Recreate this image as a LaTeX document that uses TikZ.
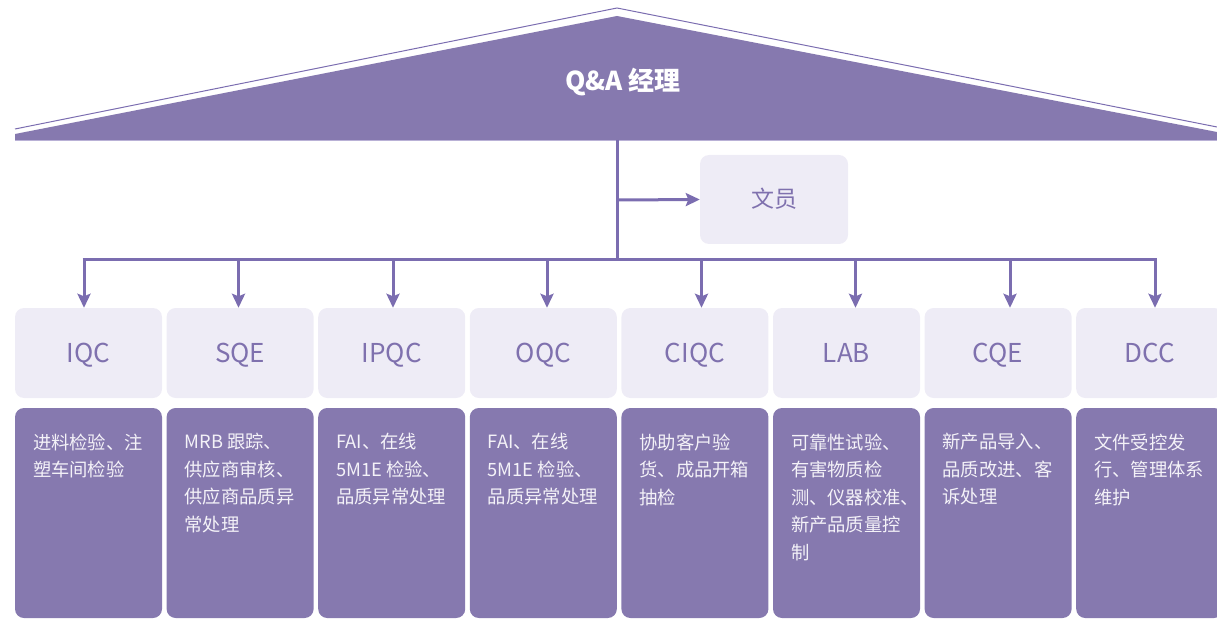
\documentclass[tikz,border=0pt]{standalone}
\usepackage{fontspec}
\setmainfont{Noto Sans CJK SC}
\usetikzlibrary{arrows.meta}
\definecolor{roofc}{HTML}{8679AF}
\definecolor{linec}{HTML}{7B6DB0}
\definecolor{lightc}{HTML}{EEECF6}
\definecolor{headc}{HTML}{7F71AE}
\definecolor{bodyc}{HTML}{F4F2F8}
\definecolor{rimc}{HTML}{B9B1D6}
\tikzset{
  conn/.style={draw=linec, line width=3pt},
  arr/.style={conn, -{Stealth[length=14pt,width=13pt,inset=2.5pt]}},
  headbox/.style={rectangle, rounded corners=9pt, fill=lightc, minimum width=147pt, minimum height=90pt, inner sep=0pt, text=headc, text height=19pt, text depth=0pt, font=\fontsize{26}{30}\selectfont},
  bodybox/.style={rectangle, rounded corners=9pt, fill=roofc, minimum width=147pt, minimum height=210pt, inner sep=0pt},
  bodytext/.style={anchor=north west, inner sep=0pt, align=left, text=bodyc, font=\fontsize{18.3}{27.5}\selectfont},
}
\begin{document}
\begin{tikzpicture}[x=1pt,y=-1pt]
\useasboundingbox (0,0) rectangle (1217,620);
% roof
\fill[roofc] (15,134) -- (617,16) -- (1217,132) -- (1217,140) -- (15,140) -- cycle;
\draw[linec, line width=1pt] (15,129) -- (617,8) -- (1217,127);
\draw[rimc, line width=1pt] (15,140.5) -- (1217,140.5);
\node[text=white, font=\fontsize{26}{30}\selectfont\bfseries] (mgr) at (623,82) {Q\&A 经理};
% clerk
\node[headbox, minimum width=148pt, minimum height=89pt, text height=20pt, text depth=3pt, font=\fontsize{23}{26}\selectfont] (clerk) at (774,199.5) {文员};
% trunk
\coordinate (top) at (617,140);
\coordinate (mid) at (617,200);
\coordinate (bus) at (617,259);
\draw[conn] (top) -- (bus);
\draw[arr] (mid) -- (clerk.west);
% columns
\foreach \i/\lab/\tx in {
  1/IQC/84, 2/SQE/238.5, 3/IPQC/393, 4/OQC/547, 5/CIQC/701.5, 6/LAB/855.5, 7/CQE/1010, 8/DCC/1155}{
  \pgfmathsetmacro{\xl}{15+(\i-1)*151.6}
  \node[headbox] (h\i) at (\xl+73.5,353) {\lab};
  \node[bodybox] (b\i) at (\xl+73.5,513) {};
  \coordinate (t\i) at (\tx,259);
}
\draw[conn] ([xshift=-1.5pt]t1) -- ([xshift=1.5pt]t8);
\foreach \i in {1,...,8}{
  \draw[arr] (t\i) -- (t\i |- h\i.north);
}
\node[bodytext] (d1) at ([xshift=18pt,yshift=-25.5pt]b1.north west) {进料检验、注\\塑车间检验};
\node[bodytext] (d2) at ([xshift=18pt,yshift=-25.5pt]b2.north west) {MRB 跟踪、\\供应商审核、\\供应商品质异\\常处理};
\node[bodytext] (d3) at ([xshift=18pt,yshift=-25.5pt]b3.north west) {FAI、在线\\5M1E 检验、\\品质异常处理};
\node[bodytext] (d4) at ([xshift=18pt,yshift=-25.5pt]b4.north west) {FAI、在线\\5M1E 检验、\\品质异常处理};
\node[bodytext] (d5) at ([xshift=18pt,yshift=-25.5pt]b5.north west) {协助客户验\\货、成品开箱\\抽检};
\node[bodytext] (d6) at ([xshift=18pt,yshift=-25.5pt]b6.north west) {可靠性试验、\\有害物质检\\测、仪器校准、\\新产品质量控\\制};
\node[bodytext] (d7) at ([xshift=18pt,yshift=-25.5pt]b7.north west) {新产品导入、\\品质改进、客\\诉处理};
\node[bodytext] (d8) at ([xshift=18pt,yshift=-25.5pt]b8.north west) {文件受控发\\行、管理体系\\维护};
\end{tikzpicture}
\end{document}
